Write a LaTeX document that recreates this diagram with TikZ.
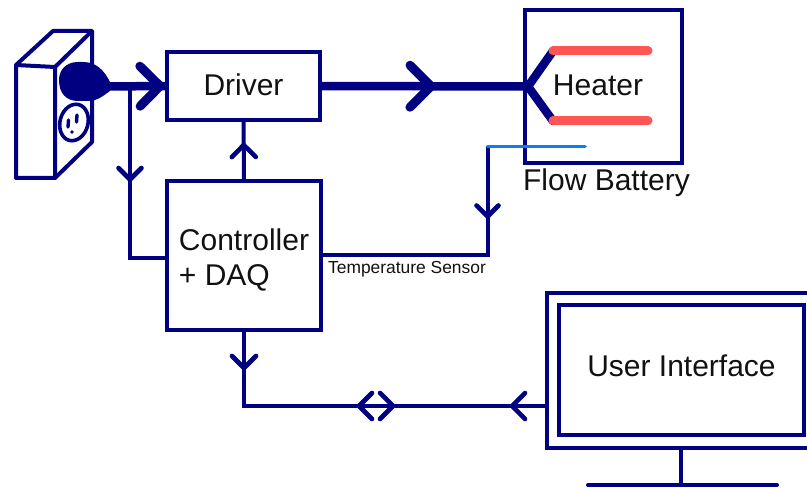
\documentclass[tikz,border=0pt]{standalone}
\usepackage{fontspec}
\setmainfont{Liberation Sans}
\usetikzlibrary{decorations.markings}
\definecolor{wire}{HTML}{000080}
\definecolor{hot}{HTML}{FF5555}
\definecolor{probe}{HTML}{0A7FF0}
\definecolor{ink}{HTML}{111111}
\tikzset{
  box/.style={draw=wire,line width=4.4pt,inner sep=0pt,outer sep=0pt,rectangle,text=ink,font=\fontsize{30}{35}\selectfont},
  thin wire/.style={draw=wire,line width=4pt},
  thick wire/.style={draw=wire,line width=8.5pt},
  caption/.style={text=ink,inner sep=0pt,font=\fontsize{30}{35}\selectfont},
  chev/.style n args={3}{postaction={decorate,decoration={markings,mark=at position #1pt with {
    \draw[draw=wire,line width=#3pt,line cap=round,line join=round] (-#2,-#2) -- (0,0) -- (-#2,#2);}}}}
}
\begin{document}
\begin{tikzpicture}[x=1pt,y=-1pt]
\useasboundingbox (0,0) rectangle (807,489);
% wall outlet
\draw[thin wire,line join=round] (55,67) -- (16,65) -- (16,178) -- (55,178) -- (55,67) -- (92,31) -- (53,31) -- (16,65);
\draw[thin wire,line join=round] (92,31) -- (92,142) -- (55,178);
\draw[draw=wire,line width=3.6pt] (74,122.5) ellipse [x radius=14pt,y radius=18.5pt,rotate=-15];
\draw[draw=wire,line width=3.4pt,line cap=round] (68.5,120) -- (68,127);
\draw[draw=wire,line width=3.4pt,line cap=round] (77,115) -- (76.5,122);
\fill[wire] (72,132) circle (1.8pt);
% plug
\fill[wire] (110,82) .. controls (104,70) and (96,62) .. (83,62) -- (78,62) .. controls (66,62) and (59,70) .. (59,80) .. controls (59,93) and (66,101) .. (78,101) -- (88,101) .. controls (98,101) and (104,95) .. (110,91) -- cycle;
\coordinate (plug) at (105,86.5);
\coordinate (tap) at (130,86.5);
% boxes
\node[box,minimum width=153pt,minimum height=68pt,text depth=3.5pt] (driver) at (243.5,86) {Driver};
\node[box,minimum width=154pt,minimum height=149pt,align=left] (ctrl) at (244,255.5) {\rule{0pt}{30pt}Controller\\+ DAQ};
\node[box,minimum width=157pt,minimum height=153pt] (battery) at (603.5,86.5) {};
\node[box,minimum width=283pt,minimum height=155pt] (monitor) at (688.5,370.5) {};
\node[box,minimum width=245pt,minimum height=130pt,text depth=8pt] (screen) at (681.5,370) {User Interface};
\node[caption,anchor=base] (heater) at (598,96) {Heater};
\node[caption,anchor=base] (flow) at (606.5,191) {Flow Battery};
\node[text=ink,inner sep=0pt,anchor=base,font=\fontsize{17.4}{20}\selectfont] (sensorlabel) at (407,274) {Temperature Sensor};
% power path
\draw[thick wire,chev={55}{20}{9}] (plug) -- (driver.west);
\coordinate (fork) at (528,86.5);
\coordinate (hotA) at (553,51);
\coordinate (hotAe) at (648,51);
\coordinate (hotB) at (553,121);
\coordinate (hotBe) at (648,121);
\draw[thick wire,chev={111}{21}{9}] (driver.east) -- (fork);
\draw[thick wire,line cap=round] (hotA) -- (fork) -- (hotB);
\draw[line width=9pt,draw=hot,line cap=round] (hotA) -- (hotAe);
\draw[line width=9pt,draw=hot,line cap=round] (hotB) -- (hotBe);
% signal paths
\draw[thin wire,chev={93}{11.5}{4.6}] (tap) |- ([yshift=-2.5pt]ctrl.west);
\draw[thin wire,chev={36}{12}{4.6}] (ctrl.north) -- (driver.south);
\coordinate (sensor) at (487.5,146.5);
\coordinate (sensorEnd) at (585,146.5);
\draw[thin wire,chev={70}{11}{4.6}] (sensor) |- (ctrl.east);
\draw[draw=probe,line width=3.8pt,line cap=round] (sensor) -- (sensorEnd);
\coordinate (port) at (547,406);
\draw[thin wire,chev={35}{13}{4.6},chev={154}{-13}{4.6},chev={188}{13}{4.6},chev={341}{-12}{4.6}] (port) -| (ctrl.south);
% stand
\coordinate (foot) at (681,485);
\coordinate (baseL) at (588,485);
\coordinate (baseR) at (777,485);
\draw[thin wire] (monitor.south -| foot) -- (foot);
\draw[thin wire,line cap=round] (baseL) -- (baseR);
\end{tikzpicture}
\end{document}
